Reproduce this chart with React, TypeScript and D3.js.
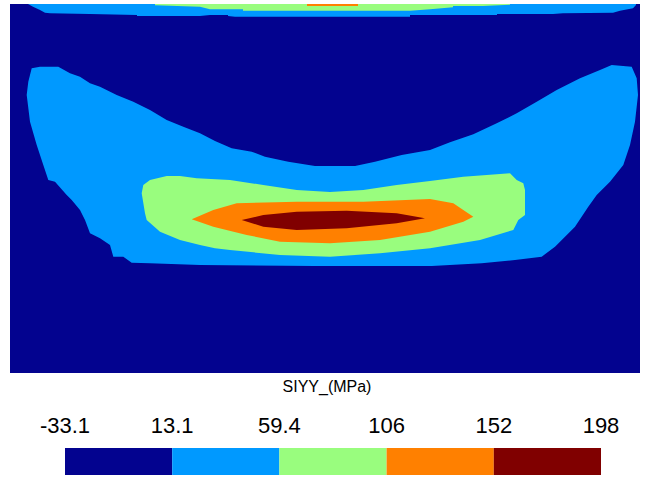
import React, { useEffect, useRef } from 'react';
import * as d3 from 'd3';

// contour levels of SIYY (MPa) and their labels on the colour bar
const levels = [-33.1, 13.1, 59.4, 106, 152, 198];
const levelLabels = ['-33.1', '13.1', '59.4', '106', '152', '198'];

// contour outlines, in plot units (x 0..630, y 0..369 from the top edge)
// top band along the upper edge
const topBand13 = [
  [18, 0], [23, 2.7], [30, 6], [35, 8.7], [40, 9.3], [80, 10], [127, 11], [127, 12],
  [190, 12], [200, 11], [218, 11], [218, 12], [225, 12.7], [400, 12.7], [400, 11],
  [487, 11], [487, 10], [543, 10], [553, 9.3], [603, 8.7], [610, 6.7], [623, 4.3],
  [626, 1], [626, 0],
];
const topBand59 = [
  [145, 0], [145, 1.3], [190, 2.7], [200, 5.3], [233, 5.3], [233, 6.7], [400, 6.7],
  [420, 5.3], [443, 3.3], [443, 2], [473, 2], [500, 0.7], [500, 0],
];
const topBand106 = [[297, 0], [348, 0], [348, 2], [297, 2]];

// main zone in the lower half
const blob13 = [
  [21.7, 64.3], [30, 62.7], [48.3, 62.7], [60, 69.3], [70, 72.7], [80, 79.3], [90, 82.7],
  [106.7, 91], [123.3, 97.7], [140, 106], [156.7, 116], [173.3, 122.7], [190, 129.3],
  [205, 137], [221.7, 144.3], [241.7, 147.7], [255, 152.7], [278.3, 157.7], [305, 162],
  [345, 162], [365, 157.7], [391.7, 151], [420, 146], [440, 138.3], [463.3, 130.3],
  [486.7, 119.3], [506.7, 109.3], [526.7, 97.7], [546.7, 86], [570, 74.3], [590, 66],
  [601.7, 61], [621.7, 62.7], [626.7, 74.3], [628, 91], [625, 117.7], [620, 141],
  [613.3, 161], [600, 177.7], [586.7, 191], [578.3, 202.7], [565, 222.7], [545, 242.7],
  [531.7, 252.7], [505, 256], [471.7, 259.3], [421.7, 262], [305, 262], [190, 261],
  [140, 259.3], [121.7, 258.7], [113.3, 252.7], [103.3, 252.7], [100, 241], [90, 234.3],
  [80, 229.3], [75, 216], [70, 206], [61.7, 196], [56.7, 191], [45, 177.7], [38.3, 176],
  [33.3, 161], [26.7, 141], [20, 117.7], [16.7, 91], [18.3, 77.7],
];
const blob59 = [
  [133.3, 181], [140, 176], [156.7, 172], [170, 172], [186.7, 174.3], [220, 176],
  [253.3, 181], [286.7, 186], [320, 188], [353.3, 186], [386.7, 181], [420, 177],
  [453.3, 172.7], [500, 169.3], [506.7, 176], [513.3, 179.3], [515, 186], [515, 211],
  [508.3, 216], [503.3, 226], [490, 230], [470, 236], [420, 244.3], [370, 249.3],
  [320, 252.7], [270, 251], [220, 246], [205, 244.3], [190, 241], [170, 236],
  [150, 227.7], [136.7, 216], [135, 209.3], [131.7, 189.3],
];
const blob106 = [
  [181.7, 215.3], [203.3, 206], [226.7, 199.3], [286.7, 197.7], [353.3, 197.7],
  [420, 195], [443.3, 199.3], [453.3, 206], [463.3, 212.7], [453.3, 217.7],
  [420, 227.7], [370, 236], [320, 239.3], [270, 237.7], [236.7, 231], [203.3, 222.7],
];
const blob152 = [
  [231.7, 216], [253.3, 211], [286.7, 207.7], [336.7, 206.7], [386.7, 209.3],
  [415, 214.3], [386.7, 219.3], [336.7, 224.3], [286.7, 226], [253.3, 222.7],
];

function App() {
  const svgRef = useRef();

  useEffect(() => {
    const W = 645;
    const H = 477;
    const plot = { left: 10, top: 4, right: 640, bottom: 373 };
    const bar = { left: 65, right: 601, top: 448, bottom: 475 };
    const font = 'Liberation Sans, Arial, sans-serif';

    const svg = d3.select(svgRef.current).attr('width', W).attr('height', H);
    svg.selectAll('*').remove();

    const x = d3.scaleLinear().domain([0, 630]).range([plot.left, plot.right]);
    const y = d3.scaleLinear().domain([0, 369]).range([plot.top, plot.bottom]);

    const colors = ['#03038f', '#0099ff', '#99fd7e', '#ff8000', '#800000'];
    const color = d3.scaleThreshold().domain(levels.slice(1, 5)).range(colors);

    // region value = lower level of the band it lies in
    const regions = [
      [levels[1], topBand13],
      [levels[2], topBand59],
      [levels[3], topBand106],
      [levels[1], blob13],
      [levels[2], blob59],
      [levels[3], blob106],
      [levels[4], blob152],
    ];

    svg
      .append('rect')
      .attr('x', x(0))
      .attr('y', y(0))
      .attr('width', x(630) - x(0))
      .attr('height', y(369) - y(0))
      .attr('fill', color(levels[0]));

    const line = d3
      .line()
      .x((d) => x(d[0]))
      .y((d) => y(d[1]))
      .curve(d3.curveLinearClosed);

    svg
      .selectAll('.band')
      .data(regions)
      .enter()
      .append('path')
      .attr('class', 'band')
      .attr('d', (d) => line(d[1]))
      .attr('fill', (d) => color(d[0]));

    // colour bar
    const bx = d3.scalePoint().domain(levelLabels).range([bar.left, bar.right]);

    svg
      .append('text')
      .attr('x', 327)
      .attr('y', 392)
      .attr('text-anchor', 'middle')
      .style('font-family', font)
      .style('font-size', '16px')
      .attr('fill', '#000')
      .text('SIYY_(MPa)');

    svg
      .selectAll('.tick-label')
      .data(levelLabels)
      .enter()
      .append('text')
      .attr('class', 'tick-label')
      .attr('x', (d) => bx(d))
      .attr('y', 433)
      .attr('text-anchor', 'middle')
      .style('font-family', font)
      .style('font-size', '22px')
      .attr('fill', '#000')
      .text((d) => d);

    svg
      .selectAll('.swatch')
      .data(levels.slice(0, 5))
      .enter()
      .append('rect')
      .attr('class', 'swatch')
      .attr('x', (d, i) => bx(levelLabels[i]))
      .attr('y', bar.top)
      .attr('width', (d, i) => bx(levelLabels[i + 1]) - bx(levelLabels[i]))
      .attr('height', bar.bottom - bar.top)
      .attr('fill', (d) => color(d));
  }, []);

  return <svg ref={svgRef} style={{ position: 'absolute', left: 0, top: 0 }}></svg>;
}

export default App;
